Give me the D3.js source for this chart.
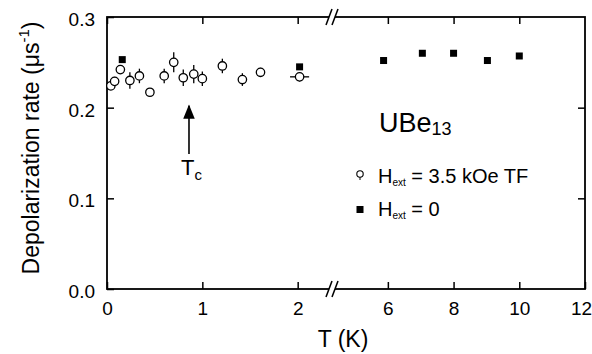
<!DOCTYPE html>
<html>
<head>
<meta charset="utf-8">
<script src="https://cdn.jsdelivr.net/npm/d3@7"></script>
<style>
  body { margin: 0; background: #fff; }
  text { font-family: "Liberation Sans", Arial, sans-serif; fill: #000; }
</style>
</head>
<body>
<div id="chart"></div>
<script>
// transverse field 3.5 kOe (open circles, with error bars)
const tfT   = [0.04, 0.08, 0.14, 0.24, 0.34, 0.45, 0.60, 0.70, 0.80, 0.91, 1.00, 1.21, 1.42, 1.61, 2.02];
const tfVal = [0.224, 0.229, 0.242, 0.230, 0.235, 0.217, 0.235, 0.250, 0.233, 0.237, 0.232, 0.246, 0.231, 0.239, 0.234];
const tfErr = [0.004, 0.005, 0.005, 0.009, 0.008, 0.003, 0.008, 0.011, 0.009, 0.010, 0.008, 0.008, 0.007, 0.005, 0.005];
const tfTErr = [0, 0, 0, 0, 0, 0, 0, 0, 0, 0, 0, 0, 0, 0, 0.1];

// zero field (filled squares)
const zfT   = [0.16, 2.02, 5.87, 7.05, 8.0, 9.03, 10.0];
const zfVal = [0.253, 0.245, 0.252, 0.260, 0.260, 0.252, 0.257];

const xTicks = [0, 1, 2, 6, 8, 10, 12];
const yTicks = [0.0, 0.1, 0.2, 0.3];

const W = 592, H = 354;
const margin = {top: 17, right: 7, bottom: 65, left: 107};
const width = W - margin.left - margin.right,
      height = H - margin.top - margin.bottom;
const breakLo = 2.36, breakHi = 4.3, breakX = 225;

const svg = d3.select("#chart").append("svg")
  .attr("width", W).attr("height", H);
const g = svg.append("g")
  .attr("transform", "translate(" + margin.left + "," + margin.top + ")");

// broken axis: two linear pieces joined at the break
const x = d3.scaleLinear()
  .domain([0, breakLo, breakHi, 12])
  .range([0, breakX, breakX, width]);
const y = d3.scaleLinear().domain([0, 0.3]).range([height, 0]);

const tickLen = 7;
const xAxisB = d3.axisBottom(x).tickValues(xTicks).tickSize(-tickLen).tickPadding(13)
  .tickFormat(d3.format("d"));
const xAxisT = d3.axisTop(x).tickValues(xTicks.slice(0, -1)).tickSize(-tickLen).tickFormat("");
const yAxisL = d3.axisLeft(y).tickValues(yTicks).tickSize(-tickLen).tickPadding(12)
  .tickFormat(d3.format(".1f"));
const yAxisR = d3.axisRight(y).tickValues([0.1, 0.2]).tickSize(-tickLen).tickFormat("");

function styleAxis(sel) {
  sel.select(".domain").attr("stroke", "#000").attr("stroke-width", 1.8);
  sel.selectAll(".tick line").attr("stroke", "#000").attr("stroke-width", 1.5);
  sel.selectAll(".tick text").style("font-size", "19px").attr("fill", "#000");
}

const xb = g.append("g").attr("transform", "translate(0," + height + ")").call(xAxisB).call(styleAxis);
xb.selectAll(".tick text").attr("dy", "0.71em");
xb.selectAll(".tick text").filter(d => d === 12).attr("dx", -4);
g.append("g").call(xAxisT).call(styleAxis);
g.append("g").call(yAxisL).call(styleAxis)
  .selectAll(".tick text").attr("dy", "0.45em");
g.append("g").attr("transform", "translate(" + width + ",0)").call(yAxisR).call(styleAxis);
g.selectAll(".domain").attr("d", null);

// frame
g.append("rect").attr("width", width).attr("height", height)
  .attr("fill", "none").attr("stroke", "#000").attr("stroke-width", 1.8);

// break marks on top and bottom
[0, height].forEach(yy => {
  g.append("rect").attr("x", breakX - 3).attr("y", yy - 2).attr("width", 6).attr("height", 4)
    .attr("fill", "#fff");
  [-3, 3].forEach(off => {
    g.append("line")
      .attr("x1", breakX + off - 3).attr("y1", yy + 8)
      .attr("x2", breakX + off + 3).attr("y2", yy - 8)
      .attr("stroke", "#000").attr("stroke-width", 1.5);
  });
});

// error bars for TF data
const tf = tfT.map((t, i) => ({t: t, v: tfVal[i], e: tfErr[i], te: tfTErr[i]}));
g.selectAll(".ebar").data(tf).enter().append("line")
  .attr("x1", d => x(d.t)).attr("x2", d => x(d.t))
  .attr("y1", d => y(d.v - d.e)).attr("y2", d => y(d.v + d.e))
  .attr("stroke", "#000").attr("stroke-width", 1.3);
g.selectAll(".tbar").data(tf.filter(d => d.te > 0)).enter().append("line")
  .attr("x1", d => x(d.t - d.te)).attr("x2", d => x(d.t + d.te))
  .attr("y1", d => y(d.v)).attr("y2", d => y(d.v))
  .attr("stroke", "#000").attr("stroke-width", 1.3);

// zero field squares
const sq = 7;
g.selectAll(".zf").data(zfT.map((t, i) => ({t: t, v: zfVal[i]}))).enter().append("rect")
  .attr("x", d => x(d.t) - sq / 2).attr("y", d => y(d.v) - sq / 2)
  .attr("width", sq).attr("height", sq).attr("fill", "#000");

// TF circles
g.selectAll(".tf").data(tf).enter().append("circle")
  .attr("cx", d => x(d.t)).attr("cy", d => y(d.v)).attr("r", 4.2)
  .attr("fill", "#fff").attr("stroke", "#000").attr("stroke-width", 1.3);

// Tc arrow
const tcX = x(0.86);
svg.append("defs").append("marker").attr("id", "arr")
  .attr("viewBox", "0 0 10 10").attr("refX", 9).attr("refY", 5)
  .attr("markerWidth", 9).attr("markerHeight", 9).attr("orient", "auto")
  .append("path").attr("d", "M0,1 L10,5 L0,9 Z").attr("fill", "#000");
g.append("line").attr("x1", tcX).attr("x2", tcX)
  .attr("y1", y(0.149)).attr("y2", y(0.202))
  .attr("stroke", "#000").attr("stroke-width", 1.6).attr("marker-end", "url(#arr)");
const tc = g.append("text").attr("x", tcX - 8).attr("y", y(0.126)).style("font-size", "22px");
tc.append("tspan").text("T");
tc.append("tspan").attr("dy", 5).style("font-size", "15px").text("c");

// compound label
const ub = g.append("text").attr("x", 272).attr("y", 115).style("font-size", "27px");
ub.append("tspan").text("UBe");
ub.append("tspan").attr("dy", 3).style("font-size", "18px").text("13");

// legend
const lg = g.append("g").attr("transform", "translate(253,0)");
lg.append("line").attr("x1", 0).attr("x2", 0).attr("y1", 157).attr("y2", 163)
  .attr("stroke", "#000").attr("stroke-width", 1);
lg.append("circle").attr("cx", 0).attr("cy", 157).attr("r", 3.2)
  .attr("fill", "#fff").attr("stroke", "#000").attr("stroke-width", 1.1);
lg.append("rect").attr("x", -3.5).attr("y", 189).attr("width", 7).attr("height", 7).attr("fill", "#000");
const l1 = lg.append("text").attr("x", 18).attr("y", 166).style("font-size", "20px");
l1.append("tspan").text("H");
l1.append("tspan").attr("dy", 3).style("font-size", "10px").text("ext");
l1.append("tspan").attr("dy", -3).text(" = 3.5 kOe TF");
const l2 = lg.append("text").attr("x", 18).attr("y", 199).style("font-size", "20px");
l2.append("tspan").text("H");
l2.append("tspan").attr("dy", 3).style("font-size", "10px").text("ext");
l2.append("tspan").attr("dy", -3).text(" = 0");

// axis titles
svg.append("text").attr("x", 343).attr("y", 347).attr("text-anchor", "middle")
  .style("font-size", "23px").text("T (K)");
const yt = svg.append("text").attr("transform", "translate(39,148) rotate(-90)")
  .attr("text-anchor", "middle").style("font-size", "23px");
yt.append("tspan").text("Depolarization rate (μs");
yt.append("tspan").attr("dy", -10).style("font-size", "15px").text("-1");
yt.append("tspan").attr("dy", 10).text(")");
</script>
</body>
</html>
